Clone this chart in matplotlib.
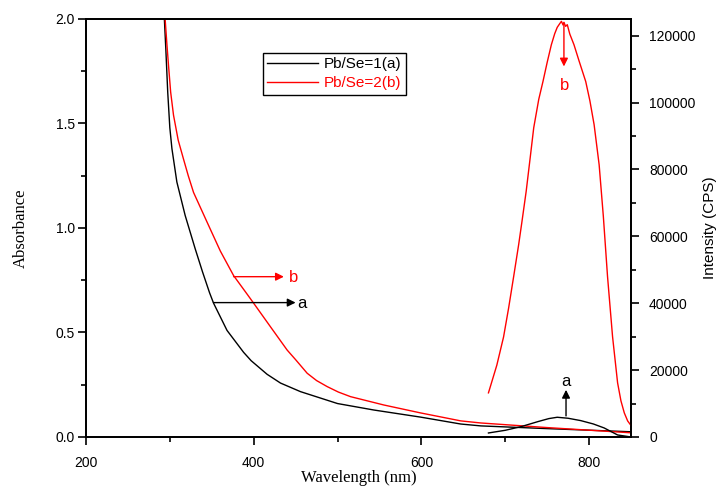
import matplotlib
matplotlib.use('Agg')
import matplotlib.pyplot as plt

plt.rcParams['font.family'] = 'Liberation Sans'
plt.rcParams['font.size'] = 10

# absorption spectra (left axis)
abs_a_nm = [293.5, 295.3, 297.5, 300, 302.5, 308.4, 318.3, 330.3, 339, 347.4, 352.2, 368.2, 388,
            397, 416, 432, 455.8, 500, 543.4, 599.2, 647, 671, 750, 850]
abs_a = [2.0, 1.85, 1.65, 1.48, 1.38, 1.22, 1.06, 0.90, 0.79, 0.69, 0.64, 0.51, 0.405,
         0.365, 0.30, 0.258, 0.217, 0.16, 0.129, 0.095, 0.062, 0.053, 0.04, 0.025]
abs_b_nm = [294.4, 296.5, 298.4, 301, 304.4, 310, 316.3, 322, 328.3, 344.2, 360.2, 376.1, 392.8,
            400, 419.9, 439.9, 450, 463.8, 475, 487.7, 501, 515.5, 555.3, 599.2, 647, 671, 750, 850]
abs_b = [2.0, 1.88, 1.78, 1.65, 1.54, 1.42, 1.33, 1.25, 1.17, 1.03, 0.89, 0.772, 0.68,
         0.64, 0.528, 0.416, 0.37, 0.305, 0.27, 0.241, 0.215, 0.193, 0.153, 0.115, 0.077, 0.067,
         0.045, 0.02]

# photoluminescence spectra (right axis)
pl_a_nm = [680, 700, 719, 739, 752, 762, 775, 790, 805, 818, 834, 850]
pl_a = [1200, 2000, 3100, 4600, 5500, 5900, 5600, 4900, 3900, 2700, 600, 0]
pl_b_nm = [680, 690, 698, 704, 710, 716, 720, 725, 730, 734, 740, 745, 750, 755, 759, 762, 765,
           767, 769, 770, 772, 774, 777, 782, 788, 796, 801, 806, 812, 817, 822, 828, 834, 838,
           842, 846, 851]
pl_b = [13200, 21500, 29900, 38500, 47900, 57500, 64500, 73500, 84000, 92500, 101000, 106300,
        112000, 117300, 120600, 122500, 123600, 124300, 123200, 124000, 122800, 123300, 120500,
        117300, 112500, 106300, 100500, 93400, 81400, 66000, 48000, 30000, 16200, 10800, 7200,
        4800, 3100]

fig = plt.figure(figsize=(7.2, 4.87), dpi=100)
ax = fig.add_axes([0.1194, 0.1027, 0.757, 0.8583])
ax2 = ax.twinx()

la, = ax.plot(abs_a_nm, abs_a, color='black', lw=1)
lb, = ax.plot(abs_b_nm, abs_b, color='red', lw=1)
ax2.plot(pl_a_nm, pl_a, color='black', lw=1)
ax2.plot(pl_b_nm, pl_b, color='red', lw=1)

ax.set_xlim(200, 850)
ax.set_ylim(0, 2.0)
ax2.set_ylim(0, 125000)
ax.set_xticks([200, 400, 600, 800])
ax.set_xticks([300, 500, 700], minor=True)
ax.set_yticks([0.0, 0.5, 1.0, 1.5, 2.0])
ax.set_yticklabels(['0.0', '0.5', '1.0', '1.5', '2.0'])
ax.set_yticks([0.25, 0.75, 1.25, 1.75], minor=True)
ax2.set_yticks(range(0, 120001, 20000))
ax2.set_yticks(range(10000, 120001, 20000), minor=True)

for a in (ax, ax2):
    for s in a.spines.values():
        s.set_linewidth(1.3)
    a.tick_params(which='major', direction='out', length=6, width=1.2)
    a.tick_params(which='minor', direction='out', length=3.5, width=1.2)
ax.tick_params(axis='y', right=False, pad=2)
ax.tick_params(axis='x', top=False, pad=8)
ax2.tick_params(axis='y', pad=7)

ax.set_xlabel('Wavelength (nm)', family='Liberation Serif', fontsize=12, labelpad=0)
ax.set_ylabel('Absorbance', family='Liberation Serif', fontsize=12, labelpad=19)
ax2.set_ylabel('Intensity (CPS)', fontsize=11, labelpad=5)

arw = dict(arrowstyle='-|>', lw=1, mutation_scale=12, shrinkA=0, shrinkB=0)
ax.annotate('', xy=(436, 0.767), xytext=(376, 0.767), arrowprops=dict(arw, color='red'))
ax.text(447.5, 0.762, 'b', color='red', fontsize=12, ha='center', va='center')
ax.annotate('', xy=(450, 0.643), xytext=(352, 0.643), arrowprops=dict(arw, color='black'))
ax.text(458, 0.640, 'a', color='black', fontsize=12, ha='center', va='center')
ax2.annotate('', xy=(770, 110800), xytext=(770, 123800), arrowprops=dict(arw, color='red'))
ax2.text(770.5, 105000, 'b', color='red', fontsize=12, ha='center', va='center')
ax2.annotate('', xy=(772.5, 14100), xytext=(772.5, 6300), arrowprops=dict(arw, color='black'))
ax2.text(772.5, 16600, 'a', color='black', fontsize=12, ha='center', va='center')

leg = ax2.legend([la, lb], ['Pb/Se=1(a)', 'Pb/Se=2(b)'], loc='upper left',
                 bbox_to_anchor=(0.324, 0.919), fontsize=11, handlelength=3.3,
                 fancybox=False, framealpha=1, edgecolor='black', borderpad=0.3,
                 labelspacing=0.3, handletextpad=0.4, borderaxespad=0)
leg.get_frame().set_linewidth(1)
leg.get_texts()[1].set_color('red')

fig.savefig('out.png', dpi=100)
